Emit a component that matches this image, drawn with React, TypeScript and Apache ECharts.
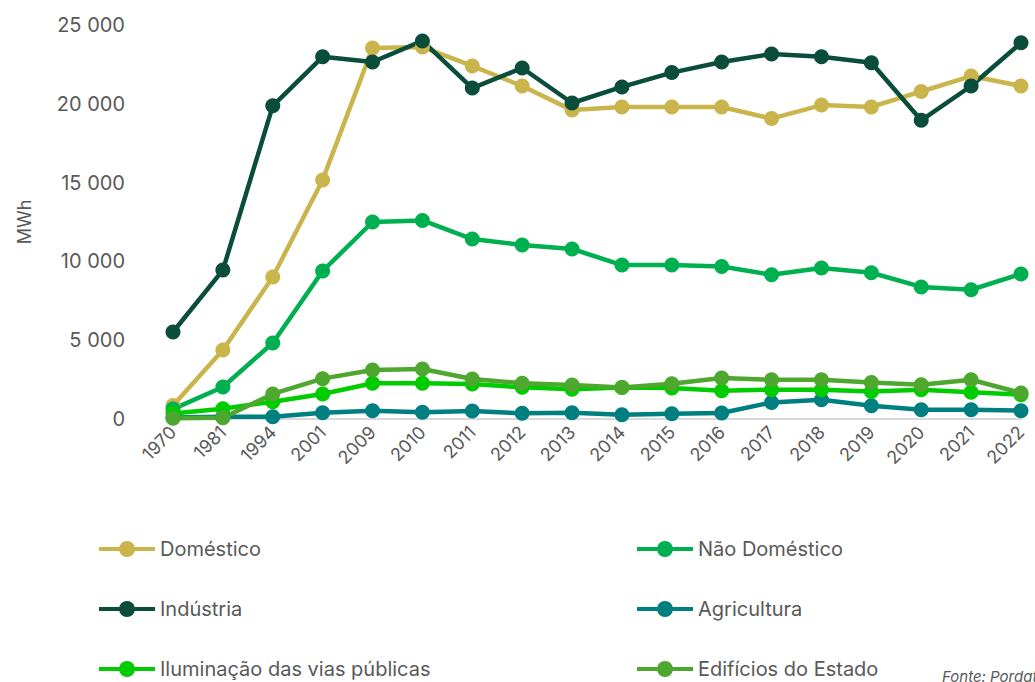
import React, { useEffect, useRef } from "react";
import * as echarts from "echarts";

const years = ["1970","1981","1994","2001","2009","2010","2011","2012","2013","2014","2015","2016","2017","2018","2019","2020","2021","2022"];
const domestico = [850,4380,9010,15170,23540,23600,22400,21130,19600,19800,19800,19800,19060,19920,19800,20780,21760,21130];
const naoDomestico = [630,2030,4820,9390,12500,12600,11420,11040,10790,9770,9770,9680,9150,9580,9280,8380,8200,9200];
const industria = [5520,9450,19870,22980,22650,23990,21000,22270,20050,21070,21980,22650,23160,22980,22600,18950,21130,23870];
const agricultura = [100,150,150,400,530,425,510,360,400,270,340,380,1050,1220,840,590,590,530];
const iluminacao = [350,650,1100,1590,2270,2270,2220,2010,1880,2000,1970,1800,1860,1860,1750,1860,1690,1540];
const edificios = [50,80,1590,2560,3110,3170,2540,2270,2160,2000,2240,2600,2490,2490,2320,2180,2490,1650];

const textColor = "#595959";
const font = "Inter, 'Noto Sans', sans-serif";

export default function App() {
  const ref = useRef<HTMLDivElement>(null);
  useEffect(() => {
    document.body.style.margin = "0";
    const chart = echarts.init(ref.current!, null, { renderer: "svg" });
    const mk = (name: string, data: number[], color: string) => ({
      name,
      type: "line",
      data,
      symbol: "circle",
      symbolSize: 15,
      lineStyle: { width: 4.5, color },
      itemStyle: { color },
    });
    const lg = (name: string, left: number, top: number) => ({
      left,
      top,
      padding: 0,
      itemWidth: 56,
      itemHeight: 20,
      itemGap: 0,
      lineStyle: { width: 4 },
      textStyle: { color: textColor, fontSize: 20, fontFamily: font },
      data: [name],
    });
    chart.setOption({
      animation: false,
      textStyle: { fontFamily: font },
      grid: { left: 173, right: 14, top: 25, bottom: 263 },
      xAxis: {
        type: "category",
        data: years,
        boundaryGap: false,
        axisLine: { lineStyle: { color: "#d9d9d9", width: 2 } },
        axisTick: { show: false },
        axisLabel: { rotate: 45, color: textColor, fontSize: 18, fontFamily: font, margin: 10 },
      },
      yAxis: {
        type: "value",
        min: 0,
        max: 25000,
        interval: 5000,
        name: "MWh",
        nameLocation: "middle",
        nameGap: 140,
        nameTextStyle: { color: textColor, fontSize: 18, fontFamily: font },
        splitLine: { show: false },
        axisLine: { show: false },
        axisTick: { show: false },
        axisLabel: {
          color: textColor,
          fontSize: 20,
          fontFamily: font,
          margin: 48,
          formatter: (v: number) => String(v).replace(/\B(?=(\d{3})+(?!\d))/g, " "),
        },
      },
      legend: [
        lg("Doméstico", 97, 539),
        lg("Indústria", 97, 599),
        lg("Iluminação das vias públicas", 97, 659),
        lg("Não Doméstico", 635, 539),
        lg("Agricultura", 635, 599),
        lg("Edifícios do Estado", 635, 659),
      ],
      graphic: [
        {
          type: "text",
          left: 942,
          top: 669,
          style: { text: "Fonte: Pordata", fill: textColor, fontSize: 15, fontStyle: "italic", fontFamily: font },
        },
      ],
      series: [
        mk("Doméstico", domestico, "#C9B54C"),
        mk("Não Doméstico", naoDomestico, "#00B050"),
        mk("Indústria", industria, "#0B4D3B"),
        mk("Agricultura", agricultura, "#007F80"),
        mk("Iluminação das vias públicas", iluminacao, "#00CC00"),
        mk("Edifícios do Estado", edificios, "#4EA72E"),
      ],
    });
    return () => chart.dispose();
  }, []);
  return <div ref={ref} style={{ width: 1035, height: 682 }} />;
}
